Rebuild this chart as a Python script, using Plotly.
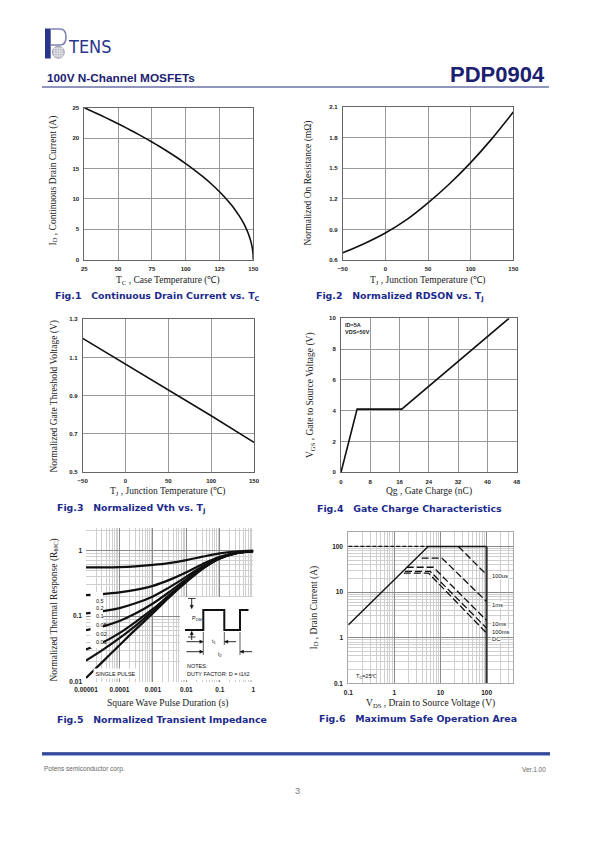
import plotly.graph_objects as go

W, H = 595, 842

# ---------------- data ----------------
# Fig.1 Continuous drain current vs case temperature
tc = [25, 31, 37.5, 44, 50, 56, 62.5, 69, 75, 81, 87.5, 94, 100, 106, 112.5, 119, 125, 128, 131, 134,
      137, 139, 141, 143, 144.5, 146, 147, 148, 148.8, 149.4, 149.8, 150]
id_tc = [25, 24.39, 23.72, 23.02, 22.36, 21.68, 20.92, 20.12, 19.36, 18.57, 17.68, 16.73, 15.81, 14.83,
         13.69, 12.45, 11.18, 10.49, 9.75, 8.94, 8.06, 7.42, 6.71, 5.92, 5.24, 4.47, 3.87, 3.16, 2.45,
         1.73, 1.0, 0]

# Fig.2 Normalized RDSON vs Tj
tj2 = [-50, -25, 0, 25, 50, 75, 100, 125, 150]
rdson = [0.67, 0.76, 0.865, 0.995, 1.16, 1.345, 1.555, 1.79, 2.05]

# Fig.3 Normalized Vth vs Tj
tj3 = [-50, 0, 50, 100, 150]
vth = [1.2, 1.065, 0.93, 0.795, 0.655]

# Fig.4 Gate charge
qg = [0, 4.4, 16.6, 45.9]
vgs = [0, 4.1, 4.1, 10]

# Fig.5 Normalized transient impedance
t_pulse = [1e-5, 3e-5, 1e-4, 3e-4, 1e-3, 3e-3, 1e-2, 3e-2, 0.1, 0.3, 1]
z_d05 = [0.55, 0.55, 0.555, 0.57, 0.60, 0.64, 0.71, 0.80, 0.90, 0.96, 0.99]
z_d02 = [0.209, 0.216, 0.229, 0.25, 0.288, 0.352, 0.464, 0.616, 0.80, 0.92, 0.976]
z_d01 = [0.110, 0.118, 0.132, 0.156, 0.199, 0.271, 0.397, 0.568, 0.775, 0.91, 0.973]
z_d005 = [0.061, 0.069, 0.084, 0.109, 0.155, 0.23, 0.364, 0.544, 0.763, 0.905, 0.972]
z_d002 = [0.031, 0.039, 0.055, 0.081, 0.128, 0.206, 0.343, 0.53, 0.755, 0.902, 0.971]
z_d001 = [0.021, 0.030, 0.046, 0.071, 0.119, 0.198, 0.337, 0.525, 0.753, 0.901, 0.97]
z_single = [0.0114, 0.0197, 0.036, 0.062, 0.11, 0.19, 0.33, 0.52, 0.75, 0.90, 0.97]
duty_labels = ["0.5", "0.2", "0.1", "0.05", "0.02", "0.01"]

# Fig.6 Safe operating area
soa_rds_v = [0.1, 5.4]
soa_rds_i = [1.9, 100]
soa_top_v = [5.4, 100]
soa_top_i = [100, 100]
soa_vmax_v = [100, 100]
soa_vmax_i = [100, 0.1]
soa_lim_v = [0.1, 5.4]
soa_lim_i = [100, 100]
soa_100us_v = [24.5, 100]
soa_100us_i = [100, 24]
soa_1ms_v = [3.9, 10.7, 100]
soa_1ms_i = [55.6, 55.6, 6.2]
soa_10ms_v = [1.85, 7.0, 100]
soa_10ms_i = [35, 35, 2.4]
soa_100ms_v = [1.7, 6.0, 100]
soa_100ms_i = [28.3, 28.3, 1.62]
soa_dc_v = [1.6, 5.5, 100]
soa_dc_i = [26, 26, 1.26]
soa_labels = ["100us", "1ms", "10ms", "100ms", "DC"]


def px(x):
    return x / W


def py(y):
    return 1 - y / H


fig = go.Figure()

BLACK = "#111111"
SERIF = "Liberation Serif"
SANS = "Liberation Sans"

fig.add_trace(go.Scatter(x=tc, y=id_tc, mode="lines", line=dict(color=BLACK, width=1.6, shape="spline", smoothing=0.6),
                         xaxis="x", yaxis="y", showlegend=False))
fig.add_trace(go.Scatter(x=tj2, y=rdson, mode="lines", line=dict(color=BLACK, width=1.6, shape="spline"),
                         xaxis="x2", yaxis="y2", showlegend=False))
fig.add_trace(go.Scatter(x=tj3, y=vth, mode="lines", line=dict(color=BLACK, width=1.6),
                         xaxis="x3", yaxis="y3", showlegend=False))
fig.add_trace(go.Scatter(x=qg, y=vgs, mode="lines", line=dict(color=BLACK, width=1.6),
                         xaxis="x4", yaxis="y4", showlegend=False))
for z in [z_d05, z_d02, z_d01, z_d005, z_d002, z_d001, z_single]:
    fig.add_trace(go.Scatter(x=t_pulse, y=z, mode="lines", line=dict(color=BLACK, width=2.2, shape="spline"),
                             xaxis="x5", yaxis="y5", showlegend=False))

fig.add_trace(go.Scatter(x=soa_lim_v, y=soa_lim_i, mode="lines", line=dict(color=BLACK, width=1.3, dash="4px,2px"),
                         xaxis="x6", yaxis="y6", showlegend=False))
fig.add_trace(go.Scatter(x=soa_rds_v, y=soa_rds_i, mode="lines", line=dict(color=BLACK, width=1.3),
                         xaxis="x6", yaxis="y6", showlegend=False))
fig.add_trace(go.Scatter(x=soa_top_v, y=soa_top_i, mode="lines", line=dict(color=BLACK, width=1.6),
                         xaxis="x6", yaxis="y6", showlegend=False))
fig.add_trace(go.Scatter(x=soa_vmax_v, y=soa_vmax_i, mode="lines", line=dict(color="#333333", width=2.2),
                         xaxis="x6", yaxis="y6", showlegend=False))
for v, i in [(soa_100us_v, soa_100us_i), (soa_1ms_v, soa_1ms_i), (soa_10ms_v, soa_10ms_i),
             (soa_100ms_v, soa_100ms_i), (soa_dc_v, soa_dc_i)]:
    fig.add_trace(go.Scatter(x=v, y=i, mode="lines", line=dict(color=BLACK, width=1.3, dash="7px,3px"),
                             xaxis="x6", yaxis="y6", showlegend=False))

# ---------------- axes ----------------
tickfont = dict(family=SANS, size=6, color="#222", weight="bold")


def lin_axis(dom, rng, dtick, tick0):
    return dict(domain=dom, range=rng, dtick=dtick, tick0=tick0, tickmode="linear",
                showline=True, mirror=True, linecolor="#666", linewidth=1,
                showgrid=True, gridcolor="#999", gridwidth=1, zeroline=False, automargin=False,
                ticks="", tickfont=tickfont, ticklabelstandoff=3, fixedrange=True)


def minor_vals(lo, hi):
    vals = []
    for e in range(lo, hi + 1):
        for m in range(2, 10):
            vals.append(m * 10 ** e)
    return vals


def log_axis(dom, rng, tv, tt, lo, hi, line=True):
    return dict(domain=dom, type="log", range=rng, tickmode="array", tickvals=tv, ticktext=tt,
                showline=line, mirror=line, linecolor="#aaa", linewidth=1, automargin=False,
                showgrid=True, gridcolor="#8a8a8a", gridwidth=1, zeroline=False,
                ticks="", tickfont=dict(family=SANS, size=6.5, color="#222", weight="bold"),
                ticklabelstandoff=3, fixedrange=True,
                minor=dict(tickmode="array", tickvals=minor_vals(lo, hi), showgrid=True,
                           gridcolor="#cfcfcf", gridwidth=0.7, ticks=""))


layout = dict(
    width=W, height=H, margin=dict(l=0, r=0, t=0, b=0, autoexpand=False),
    paper_bgcolor="white", plot_bgcolor="white", showlegend=False,
    xaxis=lin_axis([px(84.3), px(253.3)], [25, 150], 25, 25),
    yaxis=lin_axis([py(259.7), py(107.7)], [0, 25], 5, 0),
    xaxis2=lin_axis([px(342.7), px(513.3)], [-50, 150], 50, -50),
    yaxis2=lin_axis([py(260), py(107)], [0.6, 2.1], 0.3, 0.6),
    xaxis3=lin_axis([px(82.7), px(254)], [-50, 150], 50, -50),
    yaxis3=lin_axis([py(472), py(319.3)], [0.5, 1.3], 0.2, 0.5),
    xaxis4=lin_axis([px(341), px(516.7)], [0, 48], 8, 0),
    yaxis4=lin_axis([py(472.3), py(318.3)], [0, 10], 2, 0),
    xaxis5=log_axis([px(86), px(253.3)], [-5, 0], [1e-5, 1e-4, 1e-3, 1e-2, 0.1, 1],
                    ["0.00001", "0.0001", "0.001", "0.01", "0.1", "1"], -5, -1, line=False),
    yaxis5=log_axis([py(681.7), py(528)], [-2, 0.34], [0.01, 0.1, 1], ["0.01", "0.1", "1"], -2, 0, line=False),
    xaxis6=log_axis([px(348.3), px(513.3)], [-1, 2.58], [0.1, 1, 10, 100], ["0.1", "1", "10", "100"], -1, 2),
    yaxis6=log_axis([py(683.3), py(532.3)], [-1, 2.31], [0.1, 1, 10, 100], ["0.1", "1", "10", "100"], -1, 2),
)
layout["xaxis"]["anchor"] = "y"
layout["yaxis"]["anchor"] = "x"
for n in range(2, 7):
    layout[f"xaxis{n}"]["anchor"] = f"y{n}"
    layout[f"yaxis{n}"]["anchor"] = f"x{n}"
fig.update_layout(**layout)

shapes = []
annotations = []


def ann(text, x, y, size=8, color="#222", family=SANS, xanchor="center", yanchor="middle",
        angle=0, weight="normal", **kw):
    d = dict(text=text, x=px(x), y=py(y), xref="paper", yref="paper", showarrow=False,
             xanchor=xanchor, yanchor=yanchor, textangle=angle,
             font=dict(size=size, color=color, family=family, weight=weight))
    d.update(kw)
    annotations.append(d)


def rect(x0, y0, x1, y1, fill="white", line_color=None, layer="above", lw=0):
    shapes.append(dict(type="rect", xref="paper", yref="paper", x0=px(x0), x1=px(x1),
                       y0=py(y1), y1=py(y0), fillcolor=fill, layer=layer,
                       line=dict(width=lw, color=line_color or fill)))


def seg(x0, y0, x1, y1, color=BLACK, width=1):
    shapes.append(dict(type="line", xref="paper", yref="paper", x0=px(x0), y0=py(y0),
                       x1=px(x1), y1=py(y1), line=dict(color=color, width=width), layer="above"))


def arrow(xh, yh, xt, yt):
    seg(xt, yt, xh, yh, width=0.9)
    L, Wd = 3.2, 1.6
    dx, dy = xh - xt, yh - yt
    n = (dx * dx + dy * dy) ** 0.5
    ux, uy = dx / n, dy / n
    bx, by = xh - ux * L, yh - uy * L
    p1 = (bx - uy * Wd, by + ux * Wd)
    p2 = (bx + uy * Wd, by - ux * Wd)
    shapes.append(dict(type="path", xref="paper", yref="paper", layer="above",
                       path=f"M {px(xh)} {py(yh)} L {px(p1[0])} {py(p1[1])} L {px(p2[0])} {py(p2[1])} Z",
                       fillcolor=BLACK, line=dict(color=BLACK, width=0.5)))


# ---------------- header ----------------
NAVY = "#2b3589"
rect(45, 28.5, 50.7, 58.5, fill=NAVY)
shapes.append(dict(type="path", xref="paper", yref="paper",
                   path=f"M {px(50.7)} {py(29)} L {px(60)} {py(29)} Q {px(66)} {py(29)} {px(66)} {py(37)} "
                        f"Q {px(66)} {py(45)} {px(60)} {py(45)} L {px(50.7)} {py(45)}",
                   line=dict(color="#7d83b3", width=1.6), fillcolor="rgba(0,0,0,0)", layer="above"))
shapes.append(dict(type="circle", xref="paper", yref="paper", x0=px(52.3), x1=px(64.3), y0=py(58.3), y1=py(46.3),
                   fillcolor="#b8bac8", line=dict(color="#8a8ca0", width=0.8), layer="above"))
for k in range(1, 5):
    seg(52.3 + 2.4 * k, 46.8, 52.3 + 2.4 * k, 57.8, color="#f0f0f0", width=0.6)
    seg(52.8, 46.3 + 2.4 * k, 63.8, 46.3 + 2.4 * k, color="#f0f0f0", width=0.6)
ann("TENS", 65.5, 59.5, size=18, color=NAVY, family="DejaVu Sans Condensed, DejaVu Sans", xanchor="left",
    yanchor="bottom")
ann("100V N-Channel MOSFETs", 44.5, 77.5, size=11.8, color="#1b2070", family=SANS, xanchor="left", weight="bold")
ann("PDP0904", 546.5, 74.5, size=22, color="#1b2070", family=SANS, xanchor="right", weight="bold")
seg(42, 87, 549, 87, color="#1f2a7a", width=1)

# ---------------- footer ----------------
rect(42, 752.5, 550, 755.5, fill="#3550a5")
seg(42, 752.8, 550, 752.8, color="#22307a", width=0.8)
ann("Potens semiconductor corp.", 42, 769, size=6.5, color="#666", xanchor="left")
ann("Ver.1.00", 548, 769, size=6.5, color="#666", xanchor="right")
ann("3", 297.5, 791, size=9, color="#777")

# ---------------- captions ----------------
CAP = "#1c2a8c"
NB = "\u00a0\u00a0\u00a0"
caps = [
    ("Fig.1" + NB + "Continuous Drain Current vs. T<sub>C</sub>", 53, 296),
    ("Fig.2" + NB + "Normalized RDSON vs. T<sub>J</sub>", 313.5, 296),
    ("Fig.3" + NB + "Normalized Vth vs. T<sub>J</sub>", 55, 508.5),
    ("Fig.4" + NB + "Gate Charge Characteristics", 315, 508),
    ("Fig.5" + NB + "Normalized Transient Impedance", 55, 719),
    ("Fig.6" + NB + "Maximum Safe Operation Area", 317, 718),
]
for t, x, y in caps:
    ann(t, x, y, size=9.4, color=CAP, family="DejaVu Sans", xanchor="left", weight="bold")

# ---------------- axis titles ----------------
TS = 9.5
ann("T<sub>C</sub> , Case Temperature (℃)", 168, 280.5, size=TS, family=SERIF)
ann("I<sub>D</sub> , Continuous Drain Current (A)", 53.5, 181, size=TS, family=SERIF, angle=-90)
ann("T<sub>J</sub> , Junction Temperature (℃)", 428, 280.5, size=TS, family=SERIF)
ann("Normalized On Resistance (mΩ)", 308.5, 183, size=TS, family=SERIF, angle=-90)
ann("T<sub>J</sub> , Junction Temperature (℃)", 168, 492, size=TS, family=SERIF)
ann("Normalized Gate Threshold Voltage (V)", 53.5, 396, size=TS, family=SERIF, angle=-90)
ann("Qg , Gate Charge (nC)", 428.5, 492, size=TS, family=SERIF)
ann("V<sub>GS</sub> , Gate to Source Voltage (V)", 310, 395, size=TS, family=SERIF, angle=-90)
ann("Square Wave Pulse Duration (s)", 167, 703.5, size=TS, family=SERIF)
ann("Normalized Thermal Response (R<sub>θJC</sub>)", 53.5, 610, size=TS, family=SERIF, angle=-90)
ann("V<sub>DS</sub> , Drain to Source Voltage (V)", 430, 703, size=TS, family=SERIF)
ann("I<sub>D</sub> , Drain Current (A)", 313.5, 608, size=TS, family=SERIF, angle=-90)

# ---------------- Fig.4 note ----------------
ann("ID=5A", 343.5, 325, size=5.5, xanchor="left", weight="bold")
ann("VDS=50V", 343.5, 332, size=5.5, xanchor="left", weight="bold")

# ---------------- Fig.5 labels & pulse diagram ----------------
rect(90.5, 592, 103, 648)
ys = [600.5, 608, 616, 625, 633.5, 642]
for lab, y in zip(duty_labels, ys):
    ann(lab, 93.5, y, size=5.5, xanchor="left", color="#111")
ann("SINGLE PULSE", 93, 673, size=5.5, xanchor="left", color="#111", bgcolor="white", borderpad=1.5)
rect(180, 597, 253.3, 680)
shapes.append(dict(type="path", xref="paper", yref="paper", layer="above",
                   path=f"M {px(185)} {py(630)} L {px(203.3)} {py(630)} L {px(203.3)} {py(610)} "
                        f"L {px(224.3)} {py(610)} L {px(224.3)} {py(630)} L {px(240)} {py(630)} "
                        f"L {px(240)} {py(610)} L {px(248.5)} {py(610)}",
                   line=dict(color=BLACK, width=2)))
seg(203.3, 632, 203.3, 655, width=0.7)
seg(224.3, 632, 224.3, 645, width=0.7)
seg(240, 632, 240, 655, width=0.7)
seg(188, 598.5, 195.5, 598.5, width=0.8)
seg(188, 637, 195.5, 637, width=0.8)
arrow(191.7, 608.5, 191.7, 598.5)
arrow(191.7, 631.5, 191.7, 640)
ann("P<sub>DM</sub>", 189.5, 618.5, size=5.5, xanchor="left", color="#111")
arrow(203, 641.7, 186.5, 641.7)
arrow(224.6, 641.7, 236, 641.7)
ann("t<sub>1</sub>", 214, 641.5, size=5.5, color="#111")
arrow(203, 651.7, 186.5, 651.7)
arrow(240.3, 651.7, 252, 651.7)
ann("t<sub>2</sub>", 220, 654, size=5.5, color="#111")
ann("NOTES:", 184.5, 665.5, size=5.5, xanchor="left", color="#111")
ann("DUTY FACTOR: D = t1/t2", 184.5, 673.5, size=5.5, xanchor="left", color="#111")

# ---------------- Fig.6 labels ----------------
soa_label_y = [576, 605, 623.5, 632, 639]
for lab, y in zip(soa_labels, soa_label_y):
    ann(lab, 491, y, size=5.8, xanchor="left", color="#111", bgcolor="white", borderpad=0)
ann("T<sub>C</sub>=25℃", 353.5, 676, size=5.5, xanchor="left", color="#111")

fig.update_layout(shapes=shapes, annotations=annotations)
fig.write_html("out.html", config={"displayModeBar": False},
               post_script="document.body.style.margin='0';document.body.style.padding='0';")
